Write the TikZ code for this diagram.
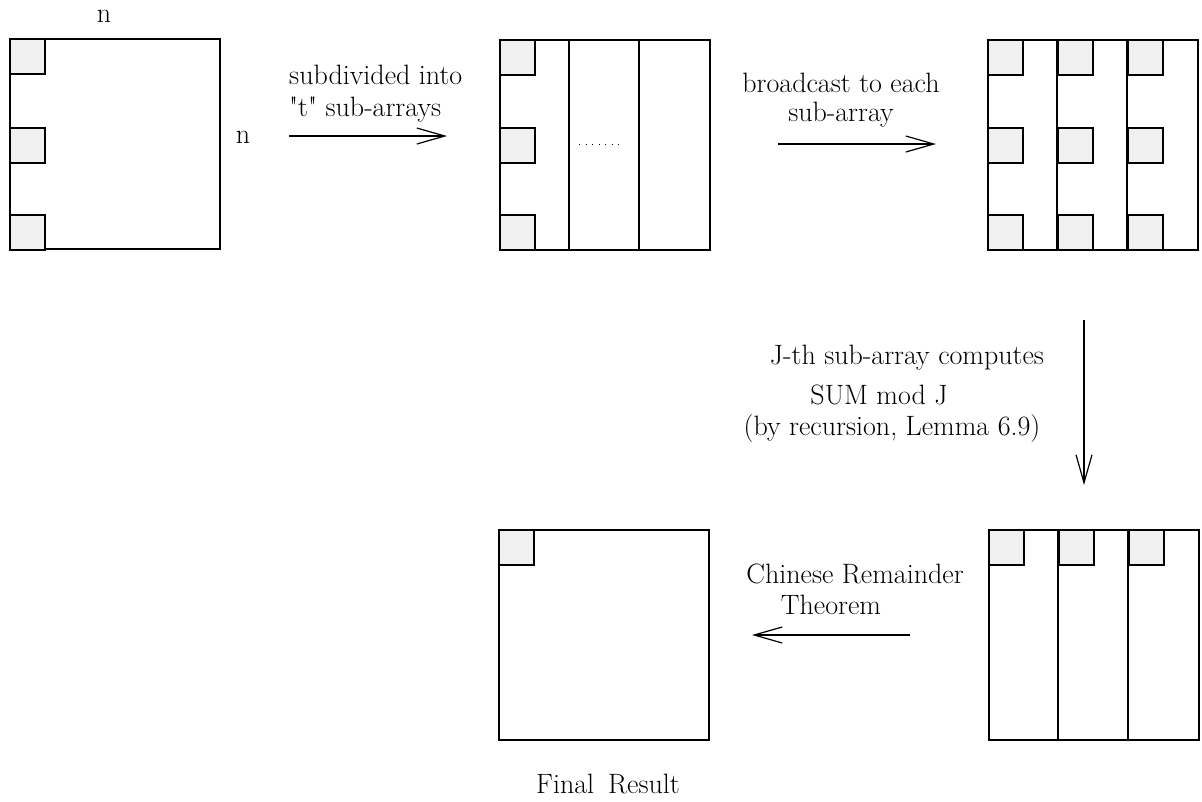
\documentclass[tikz,border=0pt]{standalone}
\usetikzlibrary{arrows.meta}
\definecolor{cellgray}{HTML}{F0F0F0}
\begin{document}
\begin{tikzpicture}[x=1pt,y=-1pt,
  array/.style={draw, line width=1.6pt, minimum width=210pt, minimum height=210pt,
    inner sep=0pt, anchor=north west},
  cell/.style={draw, line width=1.6pt, fill=cellgray, minimum width=35pt,
    minimum height=35pt, inner sep=0pt, anchor=north west},
  flow/.style={line width=1.2pt,
    -{Straight Barb[length=28pt,width=16pt,line width=1.2pt]}},
  lbl/.style={font=\fontsize{28}{33}\selectfont, inner sep=0pt}
]
\useasboundingbox (0,0) rectangle (1202,801);

% ---- input array ----
\node[array] (b1) at (9,38) {};
\node[cell] (b1c1) at (9,38) {};
\node[cell] (b1c2) at (9,127) {};
\node[cell] (b1c3) at (9,214) {};
\node[lbl, anchor=base] (ntop) at (104,22) {n};
\node[lbl, anchor=base] (nside) at (243,143) {n};

% ---- subdivided array ----
\node[array] (b2) at (499,39) {};
\draw[line width=1.6pt] ([xshift=70pt]b2.north west) -- ([xshift=70pt]b2.south west);
\draw[line width=1.6pt] ([xshift=140pt]b2.north west) -- ([xshift=140pt]b2.south west);
\node[cell] (b2c1) at (499,39) {};
\node[cell] (b2c2) at (499,127) {};
\node[cell] (b2c3) at (499,214) {};
\coordinate (dotL) at (579,144);
\coordinate (dotR) at (622,144);
\draw[line width=0.8pt, dash pattern=on 1pt off 5.5pt] (dotL) -- (dotR);

% ---- broadcast array ----
\node[array] (b3) at (987,39) {};
\draw[line width=1.6pt] ([xshift=70pt]b3.north west) -- ([xshift=70pt]b3.south west);
\draw[line width=1.6pt] ([xshift=140pt]b3.north west) -- ([xshift=140pt]b3.south west);
\foreach \cx/\ci in {987/1,1057/2,1127/3}{
  \foreach \ry/\rj in {39/1,127/2,214/3}{
    \node[cell] (b3c\ci\rj) at (\cx,\ry) {};
  }
}

% ---- residues array ----
\node[array] (b4) at (988,529) {};
\draw[line width=1.6pt] ([xshift=70pt]b4.north west) -- ([xshift=70pt]b4.south west);
\draw[line width=1.6pt] ([xshift=140pt]b4.north west) -- ([xshift=140pt]b4.south west);
\node[cell] (b4c1) at (988,529) {};
\node[cell] (b4c2) at (1058,529) {};
\node[cell] (b4c3) at (1128,529) {};

% ---- result array ----
\node[array] (b5) at (498,529) {};
\node[cell] (b5c1) at (498,529) {};
\node[lbl, anchor=base] (final) at (608,793) {Final\hspace{0.5em}Result};

% ---- arrows ----
\coordinate (a1s) at (289,136);
\coordinate (a1e) at (447,136);
\draw[flow] (a1s) -- (a1e);
\node[lbl, anchor=base west] (t1a) at (289,84) {subdivided into};
\node[lbl, anchor=base west] (t1b) at (289,116) {\textquotedbl t\textquotedbl\ sub-arrays};

\coordinate (a2s) at (778,144);
\coordinate (a2e) at (936,144);
\draw[flow] (a2s) -- (a2e);
\node[lbl, anchor=base] (t2a) at (841,92) {broadcast to each};
\node[lbl, anchor=base] (t2b) at (841,121) {sub-array};

\coordinate (a3s) at (1084,320);
\coordinate (a3e) at (1084,485);
\draw[flow] (a3s) -- (a3e);
\node[lbl, anchor=base] (t3a) at (907,364) {J-th sub-array computes};
\node[lbl, anchor=base] (t3b) at (879,404) {SUM mod J};
\node[lbl, anchor=base] (t3c) at (892,435) {(by recursion, Lemma 6.9)};

\coordinate (a4s) at (910,635);
\coordinate (a4e) at (752,635);
\draw[flow] (a4s) -- (a4e);
\node[lbl, anchor=base] (t4a) at (855,583) {Chinese Remainder};
\node[lbl, anchor=base] (t4b) at (831,614) {Theorem};
\end{tikzpicture}
\end{document}
